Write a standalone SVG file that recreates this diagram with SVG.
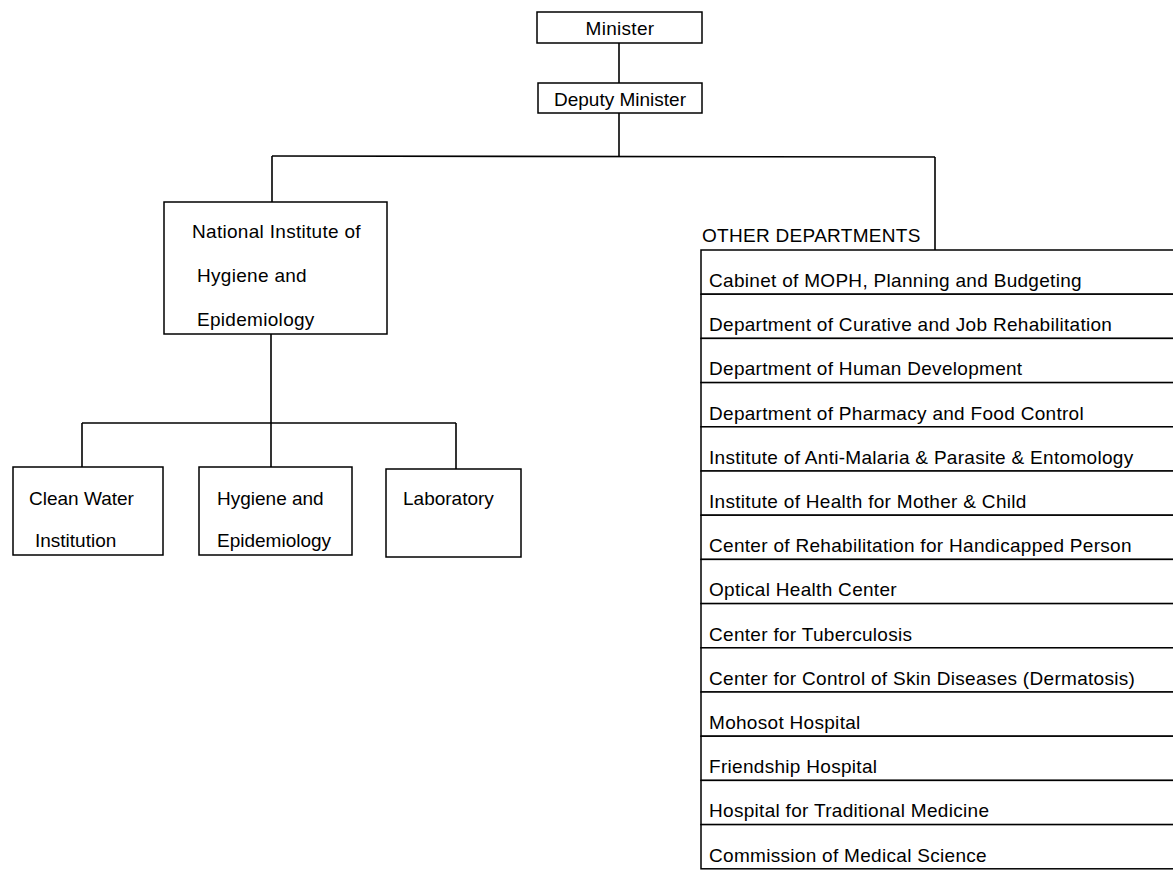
<svg xmlns="http://www.w3.org/2000/svg" width="1173" height="872" viewBox="0 0 1173 872">
<style>
rect.box{fill:#fff;stroke:#000;stroke-width:1.5}
.conn line{stroke:#000;stroke-width:1.6}
text{font-family:"Liberation Sans",Arial,Helvetica,sans-serif;font-size:19px;letter-spacing:0.3px;fill:#000}
.c{text-anchor:middle}
</style>
<rect width="1173" height="872" fill="#fff"/>
<g class="conn" id="connectors">
<line x1="619" y1="43" x2="619" y2="83"/>
<line x1="619" y1="113" x2="619" y2="156"/>
<line x1="272" y1="156" x2="935" y2="157"/>
<line x1="272" y1="156" x2="272" y2="202"/>
<line x1="935" y1="157" x2="935" y2="250"/>
<line x1="271" y1="334" x2="271" y2="423"/>
<line x1="82" y1="423" x2="456" y2="423"/>
<line x1="82" y1="423" x2="82" y2="467"/>
<line x1="271" y1="423" x2="271" y2="467"/>
<line x1="456" y1="423" x2="456" y2="469"/>
</g>
<g id="minister"><rect class="box" x="537" y="12" width="165" height="31"/><text class="c" x="620" y="35">Minister</text></g>
<g id="deputy"><rect class="box" x="538" y="83" width="164" height="30"/><text class="c" x="620" y="106" style="letter-spacing:0">Deputy Minister</text></g>
<g id="nihe"><rect class="box" x="164" y="202" width="223" height="132"/>
<text x="192" y="238">National Institute of</text>
<text x="197" y="282">Hygiene and</text>
<text x="197" y="326">Epidemiology</text></g>
<g id="cleanwater"><rect class="box" x="13" y="467" width="150" height="88"/>
<text x="29" y="505" style="letter-spacing:0">Clean Water</text><text x="35" y="547" style="letter-spacing:0">Institution</text></g>
<g id="hygiene"><rect class="box" x="199" y="467" width="153" height="88"/>
<text x="217" y="505" style="letter-spacing:0">Hygiene and</text><text x="217" y="547" style="letter-spacing:0">Epidemiology</text></g>
<g id="laboratory"><rect class="box" x="386" y="469" width="135" height="88"/>
<text x="403" y="505" style="letter-spacing:0">Laboratory</text></g>
<g id="other-label"><text x="702" y="242">OTHER DEPARTMENTS</text></g>
<g id="dept-1"><rect class="box" x="701" y="250" width="480" height="44.2"/><text x="709" y="287">Cabinet of MOPH, Planning and Budgeting</text></g>
<g id="dept-2"><rect class="box" x="701" y="294.2" width="480" height="44.2"/><text x="709" y="331">Department of Curative and Job Rehabilitation</text></g>
<g id="dept-3"><rect class="box" x="701" y="338.4" width="480" height="44.2"/><text x="709" y="375">Department of Human Development</text></g>
<g id="dept-4"><rect class="box" x="701" y="382.6" width="480" height="44.2"/><text x="709" y="420">Department of Pharmacy and Food Control</text></g>
<g id="dept-5"><rect class="box" x="701" y="426.8" width="480" height="44.2"/><text x="709" y="464">Institute of Anti-Malaria &amp; Parasite &amp; Entomology</text></g>
<g id="dept-6"><rect class="box" x="701" y="471" width="480" height="44.2"/><text x="709" y="508">Institute of Health for Mother &amp; Child</text></g>
<g id="dept-7"><rect class="box" x="701" y="515.2" width="480" height="44.2"/><text x="709" y="552">Center of Rehabilitation for Handicapped Person</text></g>
<g id="dept-8"><rect class="box" x="701" y="559.4" width="480" height="44.2"/><text x="709" y="596">Optical Health Center</text></g>
<g id="dept-9"><rect class="box" x="701" y="603.6" width="480" height="44.2"/><text x="709" y="641">Center for Tuberculosis</text></g>
<g id="dept-10"><rect class="box" x="701" y="647.8" width="480" height="44.2"/><text x="709" y="685">Center for Control of Skin Diseases (Dermatosis)</text></g>
<g id="dept-11"><rect class="box" x="701" y="692" width="480" height="44.2"/><text x="709" y="729">Mohosot Hospital</text></g>
<g id="dept-12"><rect class="box" x="701" y="736.2" width="480" height="44.2"/><text x="709" y="773">Friendship Hospital</text></g>
<g id="dept-13"><rect class="box" x="701" y="780.4" width="480" height="44.2"/><text x="709" y="817">Hospital for Traditional Medicine</text></g>
<g id="dept-14"><rect class="box" x="701" y="824.6" width="480" height="44.2"/><text x="709" y="862">Commission of Medical Science</text></g>
</svg>
